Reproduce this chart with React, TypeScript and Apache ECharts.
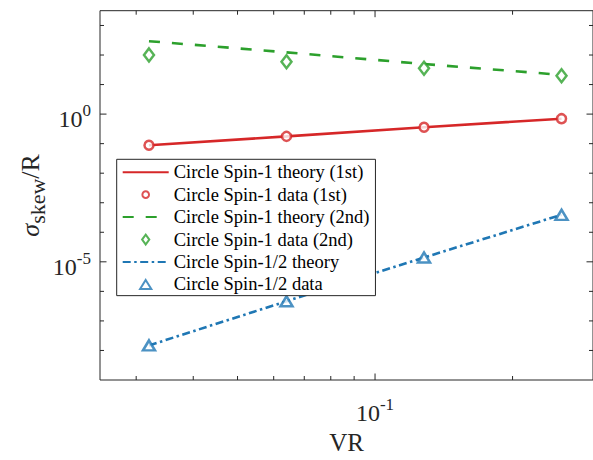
import { useEffect, useRef } from 'react';
import * as echarts from 'echarts';

// ---- data ----
const VR = [0.032, 0.064, 0.128, 0.256];
const SPIN1_THEORY_1ST = [0.088, 0.176, 0.36, 0.7];
const SPIN1_DATA_1ST = [0.088, 0.176, 0.36, 0.7];
const SPIN1_THEORY_2ND = [294, 123, 49.5, 21.3];
const SPIN1_DATA_2ND = [101, 59.0, 35.6, 19.8];
const SPINHALF_THEORY = [1.48e-8, 4.63e-7, 1.4e-5, 3.91e-4];
const SPINHALF_DATA = [1.48e-8, 4.63e-7, 1.4e-5, 3.91e-4];

const SERIES_NAMES = [
  'Circle Spin-1 theory (1st)',
  'Circle Spin-1 data (1st)',
  'Circle Spin-1 theory (2nd)',
  'Circle Spin-1 data (2nd)',
  'Circle Spin-1/2 theory',
  'Circle Spin-1/2 data',
];

// ---- axes ----
const X_MIN = 0.025;
const X_MAX = 0.3;
const Y_MIN = 1e-9;
const Y_MAX = 3162.28;
const X_TICKS = [0.03, 0.04, 0.05, 0.06, 0.07, 0.08, 0.09, 0.1, 0.2];
const X_MAJOR_TICKS = [0.1];
const Y_TICKS = [1e-8, 1e-7, 1e-6, 1e-5, 1e-4, 1e-3, 1e-2, 1e-1, 1, 10, 100, 1000];
const Y_MAJOR_TICKS = [1e-5, 1];
const X_LABEL_TICKS = [0.1];
const X_LABEL_EXP = ['-1'];
const Y_LABEL_TICKS = [1e-5, 1];
const Y_LABEL_EXP = ['-5', '0'];

const RED = '#D62728';
const GREEN = '#2CA02C';
const BLUE = '#1F77B4';
const AXIS_COLOR = '#262626';
const SERIF = "'Liberation Serif', 'Times New Roman', serif";
const LW = 2.6;

// legend marker icons, drawn inside a 46x11 icon box (M points fix the box)
const ICON_BOX = 'M0 0M46 11';
const ICON_CIRCLE = `path://${ICON_BOX}M26.3 5.5A3.3 3.3 0 1 1 19.7 5.5A3.3 3.3 0 1 1 26.3 5.5Z`;
const ICON_DIAMOND = `path://${ICON_BOX}M23 0.6L26.6 5.5L23 10.4L19.4 5.5Z`;
const ICON_TRIANGLE = `path://${ICON_BOX}M23 1L28.6 10L17.4 10Z`;

const pair = (xs: number[], ys: number[]) => xs.map((x, i) => [x, ys[i]]);

const TICK_RICH = {
  b: { fontSize: 24, fontFamily: SERIF, fill: AXIS_COLOR, padding: [5, 0, 0, 0] },
  s: { fontSize: 17, fontFamily: SERIF, fill: AXIS_COLOR, verticalAlign: 'top' },
};

function tickSeries(axis: 'x' | 'y') {
  const data =
    axis === 'x'
      ? X_TICKS.map((v) => [v, 1, X_MAJOR_TICKS.includes(v) ? 1 : 0])
      : Y_TICKS.map((v) => [0.1, v, Y_MAJOR_TICKS.includes(v) ? 1 : 0]);
  return {
    type: 'custom',
    silent: true,
    clip: false,
    z: 5,
    data,
    renderItem: (params: any, api: any) => {
      const cs = params.coordSys;
      const pt = api.coord([api.value(0), api.value(1)]);
      const len = api.value(2) ? 6.5 : 4;
      const st = { stroke: AXIS_COLOR, lineWidth: 1 };
      if (axis === 'x') {
        const x = pt[0];
        const yb = cs.y + cs.height;
        return {
          type: 'group',
          children: [
            { type: 'line', shape: { x1: x, y1: yb, x2: x, y2: yb - len }, style: st },
            { type: 'line', shape: { x1: x, y1: cs.y, x2: x, y2: cs.y + len }, style: st },
          ],
        };
      }
      const y = pt[1];
      const xr = cs.x + cs.width;
      return {
        type: 'group',
        children: [
          { type: 'line', shape: { x1: cs.x, y1: y, x2: cs.x + len, y2: y }, style: st },
          { type: 'line', shape: { x1: xr, y1: y, x2: xr - len, y2: y }, style: st },
        ],
      };
    },
  };
}

function labelSeries(axis: 'x' | 'y') {
  const data =
    axis === 'x' ? X_LABEL_TICKS.map((v) => [v, 1]) : Y_LABEL_TICKS.map((v) => [0.1, v]);
  const exps = axis === 'x' ? X_LABEL_EXP : Y_LABEL_EXP;
  return {
    type: 'custom',
    silent: true,
    clip: false,
    z: 5,
    data,
    renderItem: (params: any, api: any) => {
      const cs = params.coordSys;
      const pt = api.coord([api.value(0), api.value(1)]);
      const text = `{b|10}{s|${exps[params.dataIndex]}}`;
      if (axis === 'x') {
        return {
          type: 'text',
          x: pt[0],
          y: cs.y + cs.height + 15.5,
          style: { text, rich: TICK_RICH, align: 'center', verticalAlign: 'top', fill: AXIS_COLOR },
        };
      }
      return {
        type: 'text',
        x: cs.x - 9,
        y: pt[1] - 11.8,
        style: { text, rich: TICK_RICH, align: 'right', verticalAlign: 'top', fill: AXIS_COLOR },
      };
    },
  };
}

export default function App() {
  const ref = useRef<HTMLDivElement>(null);
  useEffect(() => {
    if (!ref.current) return;
    const chart = echarts.init(ref.current, undefined, { renderer: 'svg' });
    chart.setOption({
      animation: false,
      backgroundColor: '#fff',
      grid: {
        left: 100,
        top: 10.7,
        right: -2.5,
        bottom: 73.3,
        show: true,
        borderColor: AXIS_COLOR,
        borderWidth: 1,
        backgroundColor: 'transparent',
      },
      xAxis: {
        type: 'log',
        logBase: 10,
        min: X_MIN,
        max: X_MAX,
        name: 'VR',
        nameLocation: 'middle',
        nameGap: 50,
        nameTextStyle: { fontFamily: SERIF, fontSize: 25, color: AXIS_COLOR },
        axisLine: { show: false },
        axisTick: { show: false },
        axisLabel: { show: false },
        splitLine: { show: false },
      },
      yAxis: {
        type: 'log',
        logBase: 10,
        min: Y_MIN,
        max: Y_MAX,
        name: '{i|σ}{sub|skew}{r|/R}',
        nameLocation: 'middle',
        nameRotate: 90,
        nameGap: 56.8,
        nameTextStyle: {
          color: AXIS_COLOR,
          rich: {
            i: { fontSize: 26, fontFamily: SERIF, fontStyle: 'italic', color: AXIS_COLOR, verticalAlign: 'top', lineHeight: 26 },
            sub: { fontSize: 22, fontFamily: SERIF, color: AXIS_COLOR, lineHeight: 22, padding: [14, 0, 0, 0] },
            r: { fontSize: 26, fontFamily: SERIF, color: AXIS_COLOR, verticalAlign: 'top', lineHeight: 26 },
          },
        },
        axisLine: { show: false },
        axisTick: { show: false },
        axisLabel: { show: false },
        splitLine: { show: false },
      },
      legend: {
        orient: 'vertical',
        left: 116.7,
        top: 159.3,
        data: [
          { name: SERIES_NAMES[0] },
          { name: SERIES_NAMES[1], icon: ICON_CIRCLE },
          { name: SERIES_NAMES[2] },
          { name: SERIES_NAMES[3], icon: ICON_DIAMOND },
          { name: SERIES_NAMES[4] },
          { name: SERIES_NAMES[5], icon: ICON_TRIANGLE },
        ],
        itemWidth: 46,
        itemHeight: 11,
        itemGap: 0.45,
        padding: [1.9, 6, 0.2, 5],
        backgroundColor: '#fff',
        borderColor: AXIS_COLOR,
        borderWidth: 1,
        borderRadius: 0,
        selectedMode: false,
        textStyle: { fontFamily: SERIF, fontSize: 18.5, lineHeight: 22, color: '#000' },
      },
      series: [
        {
          name: SERIES_NAMES[0],
          type: 'line',
          data: pair(VR, SPIN1_THEORY_1ST),
          symbol: 'none',
          lineStyle: { color: RED, width: LW, type: 'solid' },
          itemStyle: { color: RED, opacity: 0 },
          z: 2,
        },
        {
          name: SERIES_NAMES[1],
          type: 'scatter',
          data: pair(VR, SPIN1_DATA_1ST),
          symbol: 'circle',
          symbolSize: 9,
          itemStyle: { color: '#fff', borderColor: RED, borderWidth: 2.5 },
          z: 3,
        },
        {
          name: SERIES_NAMES[2],
          type: 'line',
          data: pair(VR, SPIN1_THEORY_2ND),
          symbol: 'none',
          lineStyle: { color: GREEN, width: LW, type: [11, 12] },
          itemStyle: { color: GREEN, opacity: 0 },
          z: 2,
        },
        {
          name: SERIES_NAMES[3],
          type: 'scatter',
          data: pair(VR, SPIN1_DATA_2ND),
          symbol: 'diamond',
          symbolSize: [10, 13],
          itemStyle: { color: '#fff', borderColor: GREEN, borderWidth: 2.5 },
          z: 3,
        },
        {
          name: SERIES_NAMES[4],
          type: 'line',
          data: pair(VR, SPINHALF_THEORY),
          symbol: 'none',
          lineStyle: { color: BLUE, width: LW, type: [8, 3.5, 2.5, 3.5] },
          itemStyle: { color: BLUE, opacity: 0 },
          z: 2,
        },
        {
          name: SERIES_NAMES[5],
          type: 'scatter',
          data: pair(VR, SPINHALF_DATA),
          symbol: 'triangle',
          symbolSize: [12, 10],
          itemStyle: { color: '#fff', borderColor: BLUE, borderWidth: 2.5 },
          z: 3,
        },
        tickSeries('x'),
        tickSeries('y'),
        labelSeries('x'),
        labelSeries('y'),
      ],
    });
    return () => chart.dispose();
  }, []);
  return (
    <div
      ref={ref}
      style={{ position: 'absolute', left: 0, top: 0, width: 593, height: 460 }}
    />
  );
}
